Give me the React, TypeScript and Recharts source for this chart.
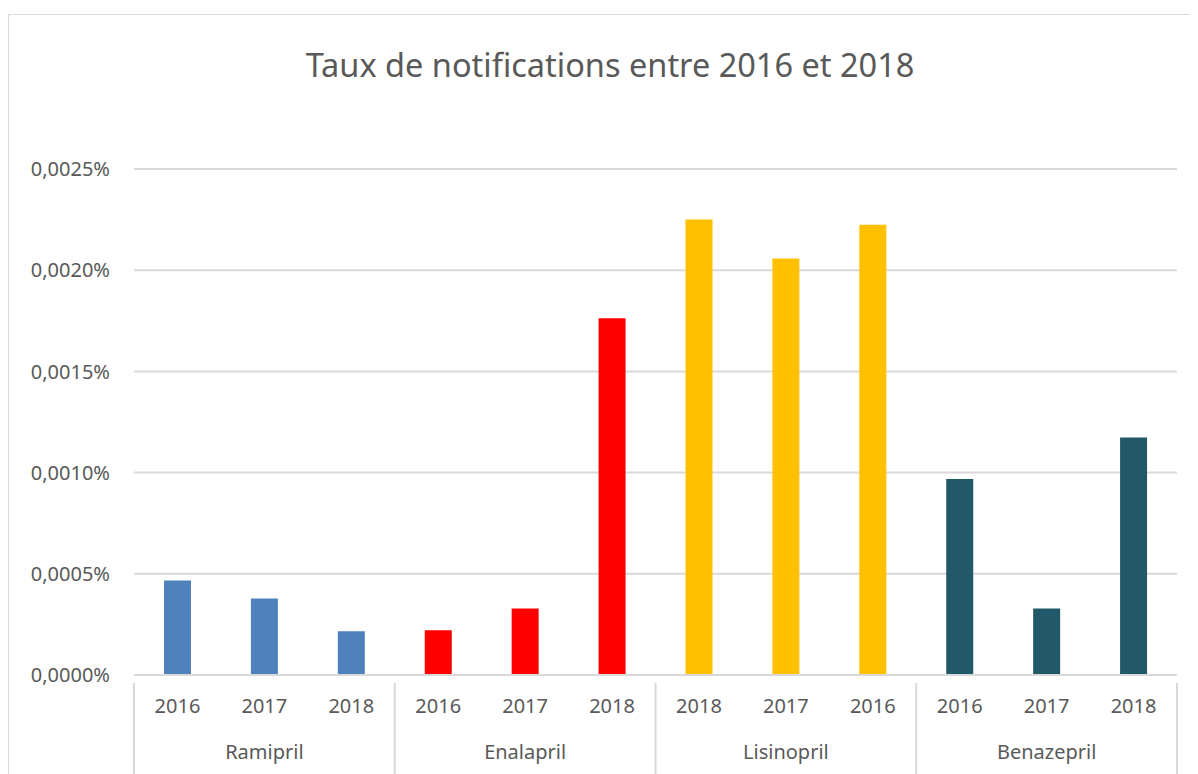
import React from 'react';
import { BarChart, Bar, XAxis, YAxis, CartesianGrid, Cell } from 'recharts';

// valeurs en %
const medicaments = ['Ramipril', 'Enalapril', 'Lisinopril', 'Benazepril'];
const annees = [
  ['2016', '2017', '2018'],
  ['2016', '2017', '2018'],
  ['2018', '2017', '2016'],
  ['2016', '2017', '2018'],
];
const taux = [
  [0.000467, 0.000378, 0.000216],
  [0.000221, 0.000329, 0.001763],
  [0.00225, 0.002058, 0.002225],
  [0.000968, 0.000329, 0.001174],
];
const couleurs = ['#4f81bd', '#ff0000', '#ffc000', '#215968'];
const yTicks = [0, 0.0005, 0.001, 0.0015, 0.002, 0.0025];

const FONT = '"Noto Sans", "Open Sans", sans-serif';
const GRIS = '#595959';
const LIGNE = '#d9d9d9';

const CHART_W = 1193;
const CHART_H = 768;
const MARGIN = { top: 154, right: 25, left: 15, bottom: 8 };
const Y_WIDTH = 110;
const PLOT_W = CHART_W - MARGIN.left - MARGIN.right - Y_WIDTH;

const data = medicaments.flatMap((med, g) =>
  annees[g].map((an, i) => ({ key: `${med}-${an}`, annee: an, groupe: med, g, valeur: taux[g][i] }))
);
const slot = PLOT_W / data.length;

const formatPct = (v: number) => v.toFixed(4).replace('.', ',') + '%';

function TickAnnee(props: any) {
  const { x, y, payload, index } = props;
  const item = data[index];
  return (
    <g>
      <text x={x} y={y + 30} textAnchor="middle" fill={GRIS} fontSize={20} fontFamily={FONT}>
        {item ? item.annee : payload.value}
      </text>
      {index % 3 === 1 && item && (
        <text x={x} y={y + 76} textAnchor="middle" fill={GRIS} fontSize={20} fontFamily={FONT}>
          {item.groupe}
        </text>
      )}
      {index % 3 === 0 && (
        <line x1={x - slot / 2} x2={x - slot / 2} y1={y} y2={y + 110} stroke={LIGNE} strokeWidth={2} />
      )}
      {index === data.length - 1 && (
        <line x1={x + slot / 2} x2={x + slot / 2} y1={y} y2={y + 110} stroke={LIGNE} strokeWidth={2} />
      )}
    </g>
  );
}

export default function App() {
  return (
    <div style={{ paddingTop: 6 }}>
      <div
        style={{
          position: 'relative',
          width: CHART_W,
          height: CHART_H,
          border: `1px solid ${LIGNE}`,
          fontFamily: FONT,
          background: '#fff',
        }}
      >
        <div
          style={{
            position: 'absolute',
            top: 30,
            left: 0,
            width: 1202,
            textAlign: 'center',
            fontSize: 32.5,
            lineHeight: '40px',
            color: GRIS,
          }}
        >
          Taux de notifications entre 2016 et 2018
        </div>
        <BarChart width={CHART_W} height={CHART_H} data={data} margin={MARGIN} barCategoryGap="34.5%">
          <CartesianGrid vertical={false} stroke={LIGNE} strokeWidth={2} />
          <XAxis
            dataKey="key"
            interval={0}
            height={100}
            tickLine={false}
            axisLine={{ stroke: LIGNE, strokeWidth: 2 }}
            tick={<TickAnnee />}
          />
          <YAxis
            width={Y_WIDTH}
            domain={[0, 0.0025]}
            ticks={yTicks}
            tickFormatter={formatPct}
            axisLine={false}
            tickLine={false}
            tickMargin={18}
            tick={{ fill: GRIS, fontSize: 20, fontFamily: FONT }}
          />
          <Bar dataKey="valeur" isAnimationActive={false}>
            {data.map((d) => (
              <Cell key={d.key} fill={couleurs[d.g]} />
            ))}
          </Bar>
        </BarChart>
      </div>
    </div>
  );
}
